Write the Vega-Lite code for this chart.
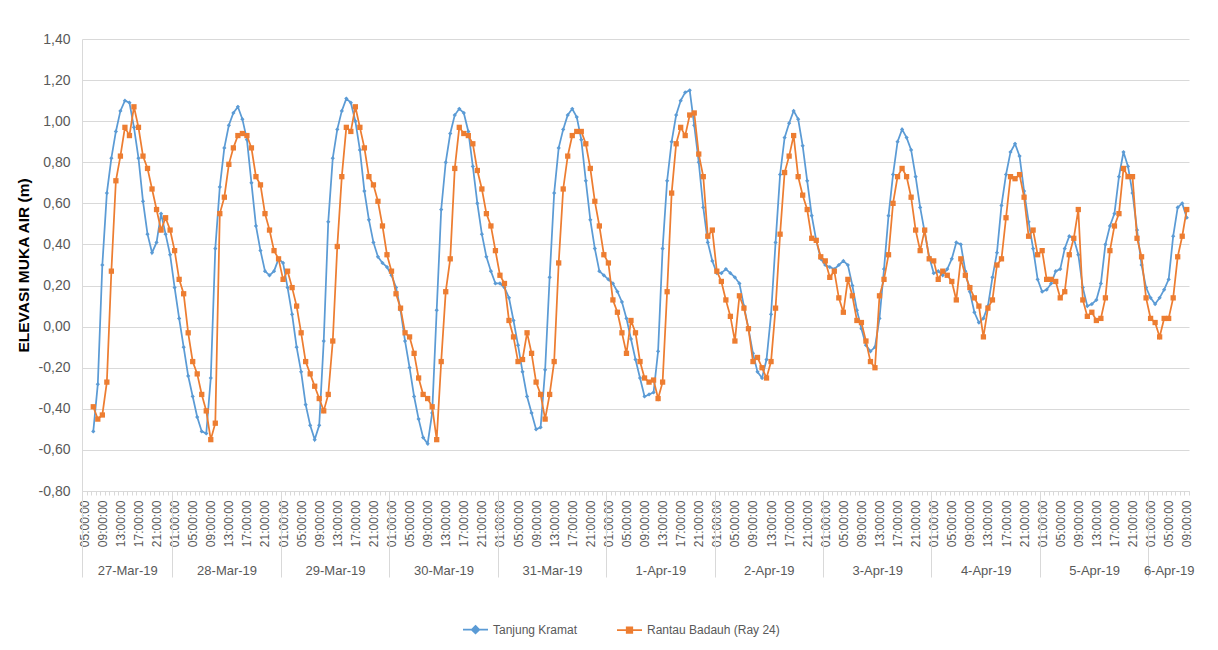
{
"$schema":"https://vega.github.io/schema/vega-lite/v6.json",
"width":1107,"height":452,
"autosize":{"type":"none"},
"padding":{"left":82,"top":39,"right":29,"bottom":159},
"background":"#ffffff",
"config":{"view":{"stroke":null},"font":"Liberation Sans","axis":{"grid":false,"labelFont":"Liberation Sans","titleFont":"Liberation Sans"},"legend":{"labelFont":"Liberation Sans"}},
"data":{"format":{"parse":{"t":"utc:'%Y-%m-%d %H'"}},"values":[
{"t":"2019-03-27 07","Tanjung Kramat":-0.51,"Rantau Badauh (Ray 24)":-0.39},
{"t":"2019-03-27 08","Tanjung Kramat":-0.28,"Rantau Badauh (Ray 24)":-0.45},
{"t":"2019-03-27 09","Tanjung Kramat":0.30,"Rantau Badauh (Ray 24)":-0.43},
{"t":"2019-03-27 10","Tanjung Kramat":0.65,"Rantau Badauh (Ray 24)":-0.27},
{"t":"2019-03-27 11","Tanjung Kramat":0.82,"Rantau Badauh (Ray 24)":0.27},
{"t":"2019-03-27 12","Tanjung Kramat":0.95,"Rantau Badauh (Ray 24)":0.71},
{"t":"2019-03-27 13","Tanjung Kramat":1.05,"Rantau Badauh (Ray 24)":0.83},
{"t":"2019-03-27 14","Tanjung Kramat":1.10,"Rantau Badauh (Ray 24)":0.97},
{"t":"2019-03-27 15","Tanjung Kramat":1.09,"Rantau Badauh (Ray 24)":0.93},
{"t":"2019-03-27 16","Tanjung Kramat":0.97,"Rantau Badauh (Ray 24)":1.07},
{"t":"2019-03-27 17","Tanjung Kramat":0.82,"Rantau Badauh (Ray 24)":0.97},
{"t":"2019-03-27 18","Tanjung Kramat":0.61,"Rantau Badauh (Ray 24)":0.83},
{"t":"2019-03-27 19","Tanjung Kramat":0.45,"Rantau Badauh (Ray 24)":0.77},
{"t":"2019-03-27 20","Tanjung Kramat":0.36,"Rantau Badauh (Ray 24)":0.67},
{"t":"2019-03-27 21","Tanjung Kramat":0.41,"Rantau Badauh (Ray 24)":0.57},
{"t":"2019-03-27 22","Tanjung Kramat":0.55,"Rantau Badauh (Ray 24)":0.47},
{"t":"2019-03-27 23","Tanjung Kramat":0.45,"Rantau Badauh (Ray 24)":0.53},
{"t":"2019-03-28 00","Tanjung Kramat":0.35,"Rantau Badauh (Ray 24)":0.47},
{"t":"2019-03-28 01","Tanjung Kramat":0.19,"Rantau Badauh (Ray 24)":0.37},
{"t":"2019-03-28 02","Tanjung Kramat":0.04,"Rantau Badauh (Ray 24)":0.23},
{"t":"2019-03-28 03","Tanjung Kramat":-0.10,"Rantau Badauh (Ray 24)":0.16},
{"t":"2019-03-28 04","Tanjung Kramat":-0.24,"Rantau Badauh (Ray 24)":-0.03},
{"t":"2019-03-28 05","Tanjung Kramat":-0.34,"Rantau Badauh (Ray 24)":-0.17},
{"t":"2019-03-28 06","Tanjung Kramat":-0.44,"Rantau Badauh (Ray 24)":-0.23},
{"t":"2019-03-28 07","Tanjung Kramat":-0.51,"Rantau Badauh (Ray 24)":-0.33},
{"t":"2019-03-28 08","Tanjung Kramat":-0.52,"Rantau Badauh (Ray 24)":-0.41},
{"t":"2019-03-28 09","Tanjung Kramat":-0.25,"Rantau Badauh (Ray 24)":-0.55},
{"t":"2019-03-28 10","Tanjung Kramat":0.38,"Rantau Badauh (Ray 24)":-0.47},
{"t":"2019-03-28 11","Tanjung Kramat":0.68,"Rantau Badauh (Ray 24)":0.55},
{"t":"2019-03-28 12","Tanjung Kramat":0.87,"Rantau Badauh (Ray 24)":0.63},
{"t":"2019-03-28 13","Tanjung Kramat":0.98,"Rantau Badauh (Ray 24)":0.79},
{"t":"2019-03-28 14","Tanjung Kramat":1.04,"Rantau Badauh (Ray 24)":0.87},
{"t":"2019-03-28 15","Tanjung Kramat":1.07,"Rantau Badauh (Ray 24)":0.93},
{"t":"2019-03-28 16","Tanjung Kramat":1.01,"Rantau Badauh (Ray 24)":0.94},
{"t":"2019-03-28 17","Tanjung Kramat":0.91,"Rantau Badauh (Ray 24)":0.93},
{"t":"2019-03-28 18","Tanjung Kramat":0.70,"Rantau Badauh (Ray 24)":0.87},
{"t":"2019-03-28 19","Tanjung Kramat":0.49,"Rantau Badauh (Ray 24)":0.73},
{"t":"2019-03-28 20","Tanjung Kramat":0.37,"Rantau Badauh (Ray 24)":0.69},
{"t":"2019-03-28 21","Tanjung Kramat":0.27,"Rantau Badauh (Ray 24)":0.55},
{"t":"2019-03-28 22","Tanjung Kramat":0.25,"Rantau Badauh (Ray 24)":0.47},
{"t":"2019-03-28 23","Tanjung Kramat":0.27,"Rantau Badauh (Ray 24)":0.37},
{"t":"2019-03-29 00","Tanjung Kramat":0.33,"Rantau Badauh (Ray 24)":0.33},
{"t":"2019-03-29 01","Tanjung Kramat":0.31,"Rantau Badauh (Ray 24)":0.23},
{"t":"2019-03-29 02","Tanjung Kramat":0.19,"Rantau Badauh (Ray 24)":0.27},
{"t":"2019-03-29 03","Tanjung Kramat":0.06,"Rantau Badauh (Ray 24)":0.19},
{"t":"2019-03-29 04","Tanjung Kramat":-0.10,"Rantau Badauh (Ray 24)":0.10},
{"t":"2019-03-29 05","Tanjung Kramat":-0.22,"Rantau Badauh (Ray 24)":-0.03},
{"t":"2019-03-29 06","Tanjung Kramat":-0.38,"Rantau Badauh (Ray 24)":-0.17},
{"t":"2019-03-29 07","Tanjung Kramat":-0.48,"Rantau Badauh (Ray 24)":-0.23},
{"t":"2019-03-29 08","Tanjung Kramat":-0.55,"Rantau Badauh (Ray 24)":-0.29},
{"t":"2019-03-29 09","Tanjung Kramat":-0.48,"Rantau Badauh (Ray 24)":-0.35},
{"t":"2019-03-29 10","Tanjung Kramat":-0.07,"Rantau Badauh (Ray 24)":-0.41},
{"t":"2019-03-29 11","Tanjung Kramat":0.51,"Rantau Badauh (Ray 24)":-0.33},
{"t":"2019-03-29 12","Tanjung Kramat":0.82,"Rantau Badauh (Ray 24)":-0.07},
{"t":"2019-03-29 13","Tanjung Kramat":0.96,"Rantau Badauh (Ray 24)":0.39},
{"t":"2019-03-29 14","Tanjung Kramat":1.05,"Rantau Badauh (Ray 24)":0.73},
{"t":"2019-03-29 15","Tanjung Kramat":1.11,"Rantau Badauh (Ray 24)":0.97},
{"t":"2019-03-29 16","Tanjung Kramat":1.09,"Rantau Badauh (Ray 24)":0.95},
{"t":"2019-03-29 17","Tanjung Kramat":1.00,"Rantau Badauh (Ray 24)":1.07},
{"t":"2019-03-29 18","Tanjung Kramat":0.86,"Rantau Badauh (Ray 24)":0.97},
{"t":"2019-03-29 19","Tanjung Kramat":0.66,"Rantau Badauh (Ray 24)":0.87},
{"t":"2019-03-29 20","Tanjung Kramat":0.52,"Rantau Badauh (Ray 24)":0.73},
{"t":"2019-03-29 21","Tanjung Kramat":0.41,"Rantau Badauh (Ray 24)":0.69},
{"t":"2019-03-29 22","Tanjung Kramat":0.34,"Rantau Badauh (Ray 24)":0.61},
{"t":"2019-03-29 23","Tanjung Kramat":0.31,"Rantau Badauh (Ray 24)":0.49},
{"t":"2019-03-30 00","Tanjung Kramat":0.29,"Rantau Badauh (Ray 24)":0.35},
{"t":"2019-03-30 01","Tanjung Kramat":0.25,"Rantau Badauh (Ray 24)":0.27},
{"t":"2019-03-30 02","Tanjung Kramat":0.19,"Rantau Badauh (Ray 24)":0.16},
{"t":"2019-03-30 03","Tanjung Kramat":0.08,"Rantau Badauh (Ray 24)":0.09},
{"t":"2019-03-30 04","Tanjung Kramat":-0.07,"Rantau Badauh (Ray 24)":-0.03},
{"t":"2019-03-30 05","Tanjung Kramat":-0.20,"Rantau Badauh (Ray 24)":-0.05},
{"t":"2019-03-30 06","Tanjung Kramat":-0.34,"Rantau Badauh (Ray 24)":-0.13},
{"t":"2019-03-30 07","Tanjung Kramat":-0.45,"Rantau Badauh (Ray 24)":-0.25},
{"t":"2019-03-30 08","Tanjung Kramat":-0.54,"Rantau Badauh (Ray 24)":-0.33},
{"t":"2019-03-30 09","Tanjung Kramat":-0.57,"Rantau Badauh (Ray 24)":-0.35},
{"t":"2019-03-30 10","Tanjung Kramat":-0.42,"Rantau Badauh (Ray 24)":-0.39},
{"t":"2019-03-30 11","Tanjung Kramat":0.08,"Rantau Badauh (Ray 24)":-0.55},
{"t":"2019-03-30 12","Tanjung Kramat":0.57,"Rantau Badauh (Ray 24)":-0.17},
{"t":"2019-03-30 13","Tanjung Kramat":0.80,"Rantau Badauh (Ray 24)":0.17},
{"t":"2019-03-30 14","Tanjung Kramat":0.94,"Rantau Badauh (Ray 24)":0.33},
{"t":"2019-03-30 15","Tanjung Kramat":1.03,"Rantau Badauh (Ray 24)":0.77},
{"t":"2019-03-30 16","Tanjung Kramat":1.06,"Rantau Badauh (Ray 24)":0.97},
{"t":"2019-03-30 17","Tanjung Kramat":1.04,"Rantau Badauh (Ray 24)":0.94},
{"t":"2019-03-30 18","Tanjung Kramat":0.95,"Rantau Badauh (Ray 24)":0.93},
{"t":"2019-03-30 19","Tanjung Kramat":0.78,"Rantau Badauh (Ray 24)":0.89},
{"t":"2019-03-30 20","Tanjung Kramat":0.60,"Rantau Badauh (Ray 24)":0.76},
{"t":"2019-03-30 21","Tanjung Kramat":0.45,"Rantau Badauh (Ray 24)":0.67},
{"t":"2019-03-30 22","Tanjung Kramat":0.34,"Rantau Badauh (Ray 24)":0.55},
{"t":"2019-03-30 23","Tanjung Kramat":0.27,"Rantau Badauh (Ray 24)":0.49},
{"t":"2019-03-31 00","Tanjung Kramat":0.21,"Rantau Badauh (Ray 24)":0.37},
{"t":"2019-03-31 01","Tanjung Kramat":0.21,"Rantau Badauh (Ray 24)":0.25},
{"t":"2019-03-31 02","Tanjung Kramat":0.19,"Rantau Badauh (Ray 24)":0.21},
{"t":"2019-03-31 03","Tanjung Kramat":0.14,"Rantau Badauh (Ray 24)":0.03},
{"t":"2019-03-31 04","Tanjung Kramat":0.03,"Rantau Badauh (Ray 24)":-0.05},
{"t":"2019-03-31 05","Tanjung Kramat":-0.09,"Rantau Badauh (Ray 24)":-0.17},
{"t":"2019-03-31 06","Tanjung Kramat":-0.22,"Rantau Badauh (Ray 24)":-0.16},
{"t":"2019-03-31 07","Tanjung Kramat":-0.34,"Rantau Badauh (Ray 24)":-0.03},
{"t":"2019-03-31 08","Tanjung Kramat":-0.42,"Rantau Badauh (Ray 24)":-0.13},
{"t":"2019-03-31 09","Tanjung Kramat":-0.50,"Rantau Badauh (Ray 24)":-0.27},
{"t":"2019-03-31 10","Tanjung Kramat":-0.49,"Rantau Badauh (Ray 24)":-0.33},
{"t":"2019-03-31 11","Tanjung Kramat":-0.21,"Rantau Badauh (Ray 24)":-0.45},
{"t":"2019-03-31 12","Tanjung Kramat":0.24,"Rantau Badauh (Ray 24)":-0.33},
{"t":"2019-03-31 13","Tanjung Kramat":0.65,"Rantau Badauh (Ray 24)":-0.17},
{"t":"2019-03-31 14","Tanjung Kramat":0.87,"Rantau Badauh (Ray 24)":0.31},
{"t":"2019-03-31 15","Tanjung Kramat":0.96,"Rantau Badauh (Ray 24)":0.67},
{"t":"2019-03-31 16","Tanjung Kramat":1.03,"Rantau Badauh (Ray 24)":0.83},
{"t":"2019-03-31 17","Tanjung Kramat":1.06,"Rantau Badauh (Ray 24)":0.93},
{"t":"2019-03-31 18","Tanjung Kramat":1.02,"Rantau Badauh (Ray 24)":0.95},
{"t":"2019-03-31 19","Tanjung Kramat":0.91,"Rantau Badauh (Ray 24)":0.95},
{"t":"2019-03-31 20","Tanjung Kramat":0.71,"Rantau Badauh (Ray 24)":0.89},
{"t":"2019-03-31 21","Tanjung Kramat":0.52,"Rantau Badauh (Ray 24)":0.77},
{"t":"2019-03-31 22","Tanjung Kramat":0.38,"Rantau Badauh (Ray 24)":0.61},
{"t":"2019-03-31 23","Tanjung Kramat":0.27,"Rantau Badauh (Ray 24)":0.49},
{"t":"2019-04-01 00","Tanjung Kramat":0.25,"Rantau Badauh (Ray 24)":0.35},
{"t":"2019-04-01 01","Tanjung Kramat":0.23,"Rantau Badauh (Ray 24)":0.31},
{"t":"2019-04-01 02","Tanjung Kramat":0.21,"Rantau Badauh (Ray 24)":0.13},
{"t":"2019-04-01 03","Tanjung Kramat":0.17,"Rantau Badauh (Ray 24)":0.07},
{"t":"2019-04-01 04","Tanjung Kramat":0.12,"Rantau Badauh (Ray 24)":-0.03},
{"t":"2019-04-01 05","Tanjung Kramat":0.04,"Rantau Badauh (Ray 24)":-0.13},
{"t":"2019-04-01 06","Tanjung Kramat":-0.06,"Rantau Badauh (Ray 24)":0.03},
{"t":"2019-04-01 07","Tanjung Kramat":-0.16,"Rantau Badauh (Ray 24)":-0.03},
{"t":"2019-04-01 08","Tanjung Kramat":-0.25,"Rantau Badauh (Ray 24)":-0.17},
{"t":"2019-04-01 09","Tanjung Kramat":-0.34,"Rantau Badauh (Ray 24)":-0.25},
{"t":"2019-04-01 10","Tanjung Kramat":-0.33,"Rantau Badauh (Ray 24)":-0.27},
{"t":"2019-04-01 11","Tanjung Kramat":-0.32,"Rantau Badauh (Ray 24)":-0.26},
{"t":"2019-04-01 12","Tanjung Kramat":-0.12,"Rantau Badauh (Ray 24)":-0.35},
{"t":"2019-04-01 13","Tanjung Kramat":0.38,"Rantau Badauh (Ray 24)":-0.27},
{"t":"2019-04-01 14","Tanjung Kramat":0.71,"Rantau Badauh (Ray 24)":0.17},
{"t":"2019-04-01 15","Tanjung Kramat":0.90,"Rantau Badauh (Ray 24)":0.65},
{"t":"2019-04-01 16","Tanjung Kramat":1.03,"Rantau Badauh (Ray 24)":0.89},
{"t":"2019-04-01 17","Tanjung Kramat":1.10,"Rantau Badauh (Ray 24)":0.97},
{"t":"2019-04-01 18","Tanjung Kramat":1.14,"Rantau Badauh (Ray 24)":0.93},
{"t":"2019-04-01 19","Tanjung Kramat":1.15,"Rantau Badauh (Ray 24)":1.03},
{"t":"2019-04-01 20","Tanjung Kramat":0.98,"Rantau Badauh (Ray 24)":1.04},
{"t":"2019-04-01 21","Tanjung Kramat":0.80,"Rantau Badauh (Ray 24)":0.84},
{"t":"2019-04-01 22","Tanjung Kramat":0.58,"Rantau Badauh (Ray 24)":0.73},
{"t":"2019-04-01 23","Tanjung Kramat":0.41,"Rantau Badauh (Ray 24)":0.44},
{"t":"2019-04-02 00","Tanjung Kramat":0.32,"Rantau Badauh (Ray 24)":0.47},
{"t":"2019-04-02 01","Tanjung Kramat":0.26,"Rantau Badauh (Ray 24)":0.27},
{"t":"2019-04-02 02","Tanjung Kramat":0.26,"Rantau Badauh (Ray 24)":0.22},
{"t":"2019-04-02 03","Tanjung Kramat":0.28,"Rantau Badauh (Ray 24)":0.13},
{"t":"2019-04-02 04","Tanjung Kramat":0.26,"Rantau Badauh (Ray 24)":0.05},
{"t":"2019-04-02 05","Tanjung Kramat":0.24,"Rantau Badauh (Ray 24)":-0.07},
{"t":"2019-04-02 06","Tanjung Kramat":0.21,"Rantau Badauh (Ray 24)":0.15},
{"t":"2019-04-02 07","Tanjung Kramat":0.10,"Rantau Badauh (Ray 24)":0.09},
{"t":"2019-04-02 08","Tanjung Kramat":-0.01,"Rantau Badauh (Ray 24)":-0.01},
{"t":"2019-04-02 09","Tanjung Kramat":-0.13,"Rantau Badauh (Ray 24)":-0.17},
{"t":"2019-04-02 10","Tanjung Kramat":-0.22,"Rantau Badauh (Ray 24)":-0.15},
{"t":"2019-04-02 11","Tanjung Kramat":-0.25,"Rantau Badauh (Ray 24)":-0.20},
{"t":"2019-04-02 12","Tanjung Kramat":-0.16,"Rantau Badauh (Ray 24)":-0.25},
{"t":"2019-04-02 13","Tanjung Kramat":0.06,"Rantau Badauh (Ray 24)":-0.17},
{"t":"2019-04-02 14","Tanjung Kramat":0.41,"Rantau Badauh (Ray 24)":0.09},
{"t":"2019-04-02 15","Tanjung Kramat":0.74,"Rantau Badauh (Ray 24)":0.45},
{"t":"2019-04-02 16","Tanjung Kramat":0.92,"Rantau Badauh (Ray 24)":0.75},
{"t":"2019-04-02 17","Tanjung Kramat":0.99,"Rantau Badauh (Ray 24)":0.83},
{"t":"2019-04-02 18","Tanjung Kramat":1.05,"Rantau Badauh (Ray 24)":0.93},
{"t":"2019-04-02 19","Tanjung Kramat":1.01,"Rantau Badauh (Ray 24)":0.73},
{"t":"2019-04-02 20","Tanjung Kramat":0.88,"Rantau Badauh (Ray 24)":0.64},
{"t":"2019-04-02 21","Tanjung Kramat":0.71,"Rantau Badauh (Ray 24)":0.57},
{"t":"2019-04-02 22","Tanjung Kramat":0.54,"Rantau Badauh (Ray 24)":0.43},
{"t":"2019-04-02 23","Tanjung Kramat":0.42,"Rantau Badauh (Ray 24)":0.42},
{"t":"2019-04-03 00","Tanjung Kramat":0.33,"Rantau Badauh (Ray 24)":0.34},
{"t":"2019-04-03 01","Tanjung Kramat":0.30,"Rantau Badauh (Ray 24)":0.32},
{"t":"2019-04-03 02","Tanjung Kramat":0.29,"Rantau Badauh (Ray 24)":0.24},
{"t":"2019-04-03 03","Tanjung Kramat":0.28,"Rantau Badauh (Ray 24)":0.27},
{"t":"2019-04-03 04","Tanjung Kramat":0.30,"Rantau Badauh (Ray 24)":0.14},
{"t":"2019-04-03 05","Tanjung Kramat":0.32,"Rantau Badauh (Ray 24)":0.07},
{"t":"2019-04-03 06","Tanjung Kramat":0.30,"Rantau Badauh (Ray 24)":0.23},
{"t":"2019-04-03 07","Tanjung Kramat":0.20,"Rantau Badauh (Ray 24)":0.15},
{"t":"2019-04-03 08","Tanjung Kramat":0.08,"Rantau Badauh (Ray 24)":0.03},
{"t":"2019-04-03 09","Tanjung Kramat":-0.01,"Rantau Badauh (Ray 24)":0.02},
{"t":"2019-04-03 10","Tanjung Kramat":-0.09,"Rantau Badauh (Ray 24)":-0.07},
{"t":"2019-04-03 11","Tanjung Kramat":-0.12,"Rantau Badauh (Ray 24)":-0.17},
{"t":"2019-04-03 12","Tanjung Kramat":-0.10,"Rantau Badauh (Ray 24)":-0.20},
{"t":"2019-04-03 13","Tanjung Kramat":0.04,"Rantau Badauh (Ray 24)":0.15},
{"t":"2019-04-03 14","Tanjung Kramat":0.28,"Rantau Badauh (Ray 24)":0.23},
{"t":"2019-04-03 15","Tanjung Kramat":0.54,"Rantau Badauh (Ray 24)":0.35},
{"t":"2019-04-03 16","Tanjung Kramat":0.74,"Rantau Badauh (Ray 24)":0.60},
{"t":"2019-04-03 17","Tanjung Kramat":0.90,"Rantau Badauh (Ray 24)":0.73},
{"t":"2019-04-03 18","Tanjung Kramat":0.96,"Rantau Badauh (Ray 24)":0.77},
{"t":"2019-04-03 19","Tanjung Kramat":0.92,"Rantau Badauh (Ray 24)":0.73},
{"t":"2019-04-03 20","Tanjung Kramat":0.86,"Rantau Badauh (Ray 24)":0.63},
{"t":"2019-04-03 21","Tanjung Kramat":0.73,"Rantau Badauh (Ray 24)":0.47},
{"t":"2019-04-03 22","Tanjung Kramat":0.58,"Rantau Badauh (Ray 24)":0.37},
{"t":"2019-04-03 23","Tanjung Kramat":0.46,"Rantau Badauh (Ray 24)":0.47},
{"t":"2019-04-04 00","Tanjung Kramat":0.34,"Rantau Badauh (Ray 24)":0.33},
{"t":"2019-04-04 01","Tanjung Kramat":0.26,"Rantau Badauh (Ray 24)":0.32},
{"t":"2019-04-04 02","Tanjung Kramat":0.27,"Rantau Badauh (Ray 24)":0.23},
{"t":"2019-04-04 03","Tanjung Kramat":0.25,"Rantau Badauh (Ray 24)":0.27},
{"t":"2019-04-04 04","Tanjung Kramat":0.28,"Rantau Badauh (Ray 24)":0.25},
{"t":"2019-04-04 05","Tanjung Kramat":0.33,"Rantau Badauh (Ray 24)":0.22},
{"t":"2019-04-04 06","Tanjung Kramat":0.41,"Rantau Badauh (Ray 24)":0.13},
{"t":"2019-04-04 07","Tanjung Kramat":0.40,"Rantau Badauh (Ray 24)":0.33},
{"t":"2019-04-04 08","Tanjung Kramat":0.27,"Rantau Badauh (Ray 24)":0.25},
{"t":"2019-04-04 09","Tanjung Kramat":0.17,"Rantau Badauh (Ray 24)":0.19},
{"t":"2019-04-04 10","Tanjung Kramat":0.07,"Rantau Badauh (Ray 24)":0.14},
{"t":"2019-04-04 11","Tanjung Kramat":0.02,"Rantau Badauh (Ray 24)":0.10},
{"t":"2019-04-04 12","Tanjung Kramat":0.04,"Rantau Badauh (Ray 24)":-0.05},
{"t":"2019-04-04 13","Tanjung Kramat":0.10,"Rantau Badauh (Ray 24)":0.09},
{"t":"2019-04-04 14","Tanjung Kramat":0.24,"Rantau Badauh (Ray 24)":0.13},
{"t":"2019-04-04 15","Tanjung Kramat":0.36,"Rantau Badauh (Ray 24)":0.30},
{"t":"2019-04-04 16","Tanjung Kramat":0.59,"Rantau Badauh (Ray 24)":0.33},
{"t":"2019-04-04 17","Tanjung Kramat":0.74,"Rantau Badauh (Ray 24)":0.53},
{"t":"2019-04-04 18","Tanjung Kramat":0.85,"Rantau Badauh (Ray 24)":0.73},
{"t":"2019-04-04 19","Tanjung Kramat":0.89,"Rantau Badauh (Ray 24)":0.72},
{"t":"2019-04-04 20","Tanjung Kramat":0.83,"Rantau Badauh (Ray 24)":0.74},
{"t":"2019-04-04 21","Tanjung Kramat":0.66,"Rantau Badauh (Ray 24)":0.63},
{"t":"2019-04-04 22","Tanjung Kramat":0.51,"Rantau Badauh (Ray 24)":0.44},
{"t":"2019-04-04 23","Tanjung Kramat":0.38,"Rantau Badauh (Ray 24)":0.47},
{"t":"2019-04-05 00","Tanjung Kramat":0.23,"Rantau Badauh (Ray 24)":0.35},
{"t":"2019-04-05 01","Tanjung Kramat":0.17,"Rantau Badauh (Ray 24)":0.37},
{"t":"2019-04-05 02","Tanjung Kramat":0.18,"Rantau Badauh (Ray 24)":0.23},
{"t":"2019-04-05 03","Tanjung Kramat":0.21,"Rantau Badauh (Ray 24)":0.23},
{"t":"2019-04-05 04","Tanjung Kramat":0.27,"Rantau Badauh (Ray 24)":0.22},
{"t":"2019-04-05 05","Tanjung Kramat":0.28,"Rantau Badauh (Ray 24)":0.14},
{"t":"2019-04-05 06","Tanjung Kramat":0.38,"Rantau Badauh (Ray 24)":0.17},
{"t":"2019-04-05 07","Tanjung Kramat":0.44,"Rantau Badauh (Ray 24)":0.35},
{"t":"2019-04-05 08","Tanjung Kramat":0.43,"Rantau Badauh (Ray 24)":0.43},
{"t":"2019-04-05 09","Tanjung Kramat":0.35,"Rantau Badauh (Ray 24)":0.57},
{"t":"2019-04-05 10","Tanjung Kramat":0.19,"Rantau Badauh (Ray 24)":0.13},
{"t":"2019-04-05 11","Tanjung Kramat":0.10,"Rantau Badauh (Ray 24)":0.05},
{"t":"2019-04-05 12","Tanjung Kramat":0.11,"Rantau Badauh (Ray 24)":0.07},
{"t":"2019-04-05 13","Tanjung Kramat":0.13,"Rantau Badauh (Ray 24)":0.03},
{"t":"2019-04-05 14","Tanjung Kramat":0.21,"Rantau Badauh (Ray 24)":0.04},
{"t":"2019-04-05 15","Tanjung Kramat":0.40,"Rantau Badauh (Ray 24)":0.14},
{"t":"2019-04-05 16","Tanjung Kramat":0.49,"Rantau Badauh (Ray 24)":0.37},
{"t":"2019-04-05 17","Tanjung Kramat":0.55,"Rantau Badauh (Ray 24)":0.49},
{"t":"2019-04-05 18","Tanjung Kramat":0.73,"Rantau Badauh (Ray 24)":0.55},
{"t":"2019-04-05 19","Tanjung Kramat":0.85,"Rantau Badauh (Ray 24)":0.77},
{"t":"2019-04-05 20","Tanjung Kramat":0.78,"Rantau Badauh (Ray 24)":0.73},
{"t":"2019-04-05 21","Tanjung Kramat":0.65,"Rantau Badauh (Ray 24)":0.73},
{"t":"2019-04-05 22","Tanjung Kramat":0.47,"Rantau Badauh (Ray 24)":0.43},
{"t":"2019-04-05 23","Tanjung Kramat":0.30,"Rantau Badauh (Ray 24)":0.34},
{"t":"2019-04-06 00","Tanjung Kramat":0.19,"Rantau Badauh (Ray 24)":0.14},
{"t":"2019-04-06 01","Tanjung Kramat":0.14,"Rantau Badauh (Ray 24)":0.04},
{"t":"2019-04-06 02","Tanjung Kramat":0.11,"Rantau Badauh (Ray 24)":0.02},
{"t":"2019-04-06 03","Tanjung Kramat":0.14,"Rantau Badauh (Ray 24)":-0.05},
{"t":"2019-04-06 04","Tanjung Kramat":0.18,"Rantau Badauh (Ray 24)":0.04},
{"t":"2019-04-06 05","Tanjung Kramat":0.23,"Rantau Badauh (Ray 24)":0.04},
{"t":"2019-04-06 06","Tanjung Kramat":0.44,"Rantau Badauh (Ray 24)":0.14},
{"t":"2019-04-06 07","Tanjung Kramat":0.58,"Rantau Badauh (Ray 24)":0.34},
{"t":"2019-04-06 08","Tanjung Kramat":0.60,"Rantau Badauh (Ray 24)":0.44},
{"t":"2019-04-06 09","Tanjung Kramat":0.53,"Rantau Badauh (Ray 24)":0.57}
]},
"transform":[{"fold":["Tanjung Kramat","Rantau Badauh (Ray 24)"],"as":["series","value"]}],
"encoding":{
"y":{"field":"value","type":"quantitative","scale":{"domain":[-0.8,1.4],"nice":false,"zero":false},
"axis":{"values":[-0.8,-0.6,-0.4,-0.2,0,0.2,0.4,0.6,0.8,1,1.2,1.4],"grid":true,"gridColor":"#d9d9d9","gridWidth":1,"domain":true,"domainColor":"#d9d9d9","ticks":false,"labelPadding":12,"labelFontSize":14,"labelColor":"#595959","labelExpr":"(datum.value < -0.0001 ? '-' : '') + replace(format(abs(datum.value), '.2f'), '.', ',')","title":"ELEVASI MUKA AIR (m)","titleFontSize":15.5,"titleFontWeight":"bold","titleColor":"#000000","titlePadding":7}},
"color":{"field":"series","type":"nominal","scale":{"domain":["Tanjung Kramat","Rantau Badauh (Ray 24)"],"range":["#5B9BD5","#ED7D31"]},
"legend":{"orient":"none","legendX":380,"legendY":577,"direction":"horizontal","title":null,"labelFontSize":12,"labelColor":"#595959","symbolSize":625,"columnPadding":35,"labelOffset":4,"padding":0,
"encode":{"symbols":{"update":{"shape":{"signal":"datum.value === 'Tanjung Kramat' ? 'M-1,0H1M0,-0.3L0.3,0L0,0.3L-0.3,0Z' : 'M-1,0H1M-0.22,-0.22H0.22V0.22H-0.22Z'"},"fill":{"scale":"color","field":"value"},"stroke":{"scale":"color","field":"value"},"strokeWidth":{"value":1.75},"opacity":{"value":1}}}}}}
},
"layer":[
{"transform":[{"filter":"datum.series === 'Tanjung Kramat'"}],
"mark":{"type":"line","strokeWidth":1.75},
"encoding":{"x":{"field":"t","type":"temporal","scale":{"type":"utc","domain":[{"year":2019,"month":3,"date":27,"hours":4,"minutes":30,"utc":true},{"year":2019,"month":4,"date":6,"hours":9,"minutes":30,"utc":true}]},
"axis":{"orient":"bottom","title":null,"values":{"expr":"sequence(1553662800000, 1554541300000, 14400000)"},"labelExpr":"utcFormat(datum.value, '%H:%M:%S')","labelAngle":-90,"labelFontSize":12,"labelColor":"#595959","labelPadding":9,"labelOverlap":false,"labelFlush":false,"ticks":false,"domain":true,"domainColor":"#d9d9d9","grid":false}}}},
{"transform":[{"filter":"datum.series === 'Tanjung Kramat'"}],
"mark":{"type":"point","shape":"diamond","filled":true,"size":18,"opacity":1},
"encoding":{"x":{"field":"t","type":"temporal","scale":{"type":"utc"},
"axis":{"orient":"bottom","title":null,"values":{"expr":"sequence(1553661000000, 1554543000001, 3600000)"},"labels":false,"ticks":true,"tickSize":4,"tickColor":"#d9d9d9","domain":false,"grid":false}}}},
{"transform":[{"filter":"datum.series === 'Rantau Badauh (Ray 24)'"}],
"mark":{"type":"line","strokeWidth":1.75},
"encoding":{"x":{"field":"t","type":"temporal","scale":{"type":"utc"},
"axis":{"orient":"bottom","title":null,"values":[1553661000000,1553733000000,1553819400000,1553905800000,1553992200000,1554078600000,1554165000000,1554251400000,1554337800000,1554424200000,1554510600000],"labels":false,"ticks":true,"tickSize":86,"tickColor":"#d9d9d9","domain":false,"grid":false}}}},
{"transform":[{"filter":"datum.series === 'Rantau Badauh (Ray 24)'"}],
"mark":{"type":"point","shape":"square","filled":true,"size":28,"opacity":1},
"encoding":{"x":{"field":"t","type":"temporal","scale":{"type":"utc"},
"axis":{"orient":"bottom","title":null,"values":[1553697000000,1553776200000,1553862600000,1553949000000,1554035400000,1554121800000,1554208200000,1554294600000,1554381000000,1554467400000,1554526800000],"ticks":false,"domain":false,"grid":false,"labelExpr":"utcFormat(datum.value, '%-d-%b-%y')","labelFontSize":13,"labelColor":"#595959","labelPadding":73,"labelAngle":0,"labelOverlap":false,"labelFlush":false,"labelAlign":"center"}}}}
],
"resolve":{"axis":{"x":"independent"}}
}
